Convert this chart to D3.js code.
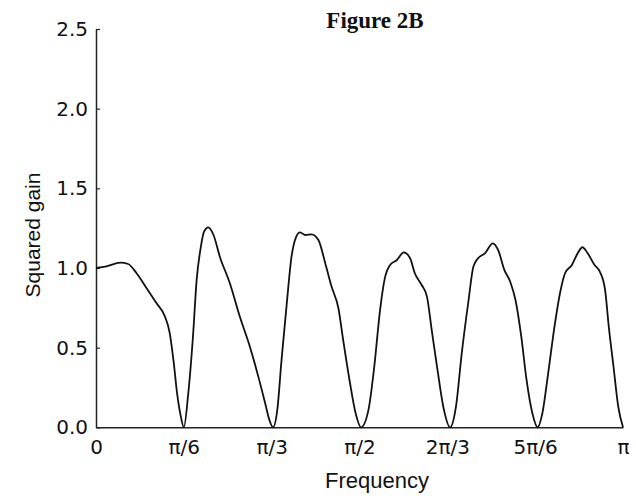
<!DOCTYPE html>
<html>
<head>
<meta charset="utf-8">
<script src="https://cdn.jsdelivr.net/npm/d3@7"></script>
<style>
  body { margin: 0; background: #fff; }
  svg { display: block; }
</style>
</head>
<body>
<svg width="636" height="504"></svg>
<script>
// frequency as a fraction of pi
const freq = [0, 0.020, 0.046, 0.061, 0.077, 0.096, 0.115, 0.131, 0.140, 0.147, 0.154, 0.161, 0.1667,
  0.175, 0.184, 0.191, 0.199, 0.205, 0.213, 0.223, 0.235, 0.254, 0.273, 0.292, 0.308, 0.321, 0.329, 0.336,
  0.344, 0.352, 0.362, 0.371, 0.380, 0.387, 0.397, 0.409, 0.422, 0.435, 0.447, 0.460, 0.469, 0.481, 0.492, 0.503,
  0.517, 0.528, 0.539, 0.548, 0.558, 0.571, 0.584, 0.596, 0.605, 0.618, 0.628, 0.637, 0.648, 0.659, 0.672,
  0.683, 0.694, 0.707, 0.716, 0.725, 0.738, 0.753, 0.763, 0.775, 0.786, 0.796, 0.807, 0.817, 0.828, 0.838,
  0.847, 0.858, 0.870, 0.881, 0.890, 0.903, 0.914, 0.923, 0.933, 0.946, 0.956, 0.966, 0.973, 0.982, 0.991, 1.0];
const gain = [1.00, 1.01, 1.033, 1.025, 0.967, 0.873, 0.778, 0.694, 0.59, 0.42, 0.21, 0.067, 0,
  0.21, 0.57, 0.925, 1.134, 1.228, 1.255, 1.207, 1.071, 0.904, 0.694, 0.506, 0.318, 0.151, 0.046, 0,
  0.109, 0.42, 0.778, 1.071, 1.197, 1.224, 1.207, 1.211, 1.176, 1.03, 0.883, 0.747, 0.548, 0.297, 0.098, 0,
  0.109, 0.38, 0.736, 0.935, 1.019, 1.05, 1.098, 1.061, 0.967, 0.893, 0.82, 0.611, 0.36, 0.129, 0,
  0.129, 0.464, 0.799, 1.008, 1.061, 1.092, 1.155, 1.113, 0.987, 0.914, 0.799, 0.569, 0.297, 0.088, 0,
  0.088, 0.339, 0.632, 0.851, 0.967, 1.019, 1.092, 1.13, 1.092, 1.019, 0.977, 0.862, 0.632, 0.38, 0.129, 0];

const xTicks = [0, 1/6, 1/3, 1/2, 2/3, 5/6, 1];
const xTickLabels = ["0", "π/6", "π/3", "π/2", "2π/3", "5π/6", "π"];
const yTicks = [0, 0.5, 1.0, 1.5, 2.0, 2.5];

const svg = d3.select("svg");
const x = d3.scaleLinear().domain([0, 1]).range([96, 623]);
const y = d3.scaleLinear().domain([0, 2.5]).range([427.3, 29]);

// axes
const yAxis = svg.append("g")
  .attr("transform", "translate(96,0)")
  .call(d3.axisLeft(y).tickValues(yTicks).tickFormat(d3.format(".1f"))
    .tickSizeInner(-4).tickSizeOuter(0).tickPadding(8));
yAxis.selectAll("text").attr("font-family", "DejaVu Sans").attr("font-size", 20).attr("fill", "#111");

const xAxis = svg.append("g")
  .attr("transform", "translate(0,427.3)")
  .call(d3.axisBottom(x).tickValues(xTicks).tickFormat((d, i) => xTickLabels[i])
    .tickSize(0).tickPadding(13));
xAxis.selectAll("text").attr("font-family", "DejaVu Sans").attr("font-size", 20).attr("fill", "#111");

svg.selectAll(".domain").attr("stroke", "#222").attr("stroke-width", 1.5);
svg.selectAll(".tick line").attr("stroke", "#222").attr("stroke-width", 1.2);

// curve
const line = d3.line()
  .x((d, i) => x(freq[i]))
  .y(d => y(d))
  .curve(d3.curveMonotoneX);

svg.append("path")
  .datum(gain)
  .attr("d", line)
  .attr("fill", "none")
  .attr("stroke", "#111")
  .attr("stroke-width", 1.8);

// labels
svg.append("text")
  .attr("x", 375).attr("y", 28)
  .attr("text-anchor", "middle")
  .attr("font-family", "Liberation Serif").attr("font-weight", "bold").attr("font-size", 23)
  .attr("fill", "#111")
  .text("Figure 2B");

svg.append("text")
  .attr("x", 377).attr("y", 488)
  .attr("text-anchor", "middle")
  .attr("font-family", "Liberation Sans").attr("font-size", 22)
  .attr("fill", "#111")
  .text("Frequency");

svg.append("text")
  .attr("transform", "translate(40,235) rotate(-90)")
  .attr("text-anchor", "middle")
  .attr("font-family", "Liberation Sans").attr("font-size", 21)
  .attr("fill", "#111")
  .text("Squared gain");
</script>
</body>
</html>
